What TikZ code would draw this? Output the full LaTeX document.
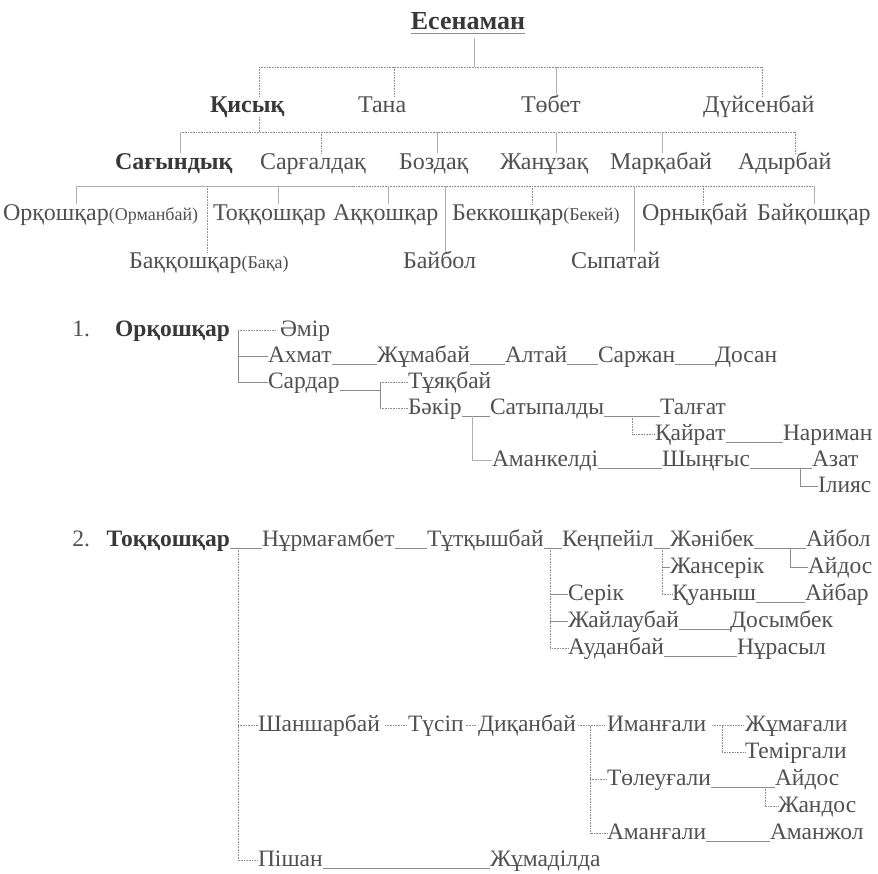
\documentclass[tikz,border=0pt]{standalone}
\usepackage{fontspec}
\setmainfont{Liberation Serif}
\definecolor{tc}{HTML}{505050}
\definecolor{tb}{HTML}{383838}
\definecolor{lc}{HTML}{8C8C8C}
\definecolor{lcl}{HTML}{B0B0B0}
\newcommand\usc[2]{\draw[us] ([yshift=-2pt]#1.base east) -- ([yshift=-2pt]#2.base west);}
\newcommand\smp{\fontsize{18}{20}\selectfont}
\begin{document}
\begin{tikzpicture}[x=1pt,y=-1pt,
 every node/.style={inner sep=0pt, outer sep=0pt},
 up/.style={anchor=base west, text=tc, font=\fontsize{24}{26}\selectfont, text height=16pt, text depth=5pt},
 upb/.style={up, text=tb, font=\fontsize{24}{26}\selectfont\bfseries},
 lo/.style={anchor=base west, text=tc, font=\fontsize{23.5}{26}\selectfont, text height=15pt, text depth=4pt},
 lob/.style={lo, text=tb, font=\fontsize{23.5}{26}\selectfont\bfseries},
 ln/.style={draw=lc, line width=0.6pt},
 dt/.style={ln, densely dotted},
 sl/.style={draw=lcl, line width=1pt},
 us/.style={draw=lc, line width=0.8pt},
]
\fill[white] (0,0) rectangle (878,873);
\useasboundingbox (0,0) rectangle (878,873);
% ---------- upper tree ----------
\node[upb, anchor=base, font=\fontsize{26}{28}\selectfont\bfseries] (es) at (468,29) {Есенаман};
\draw[ln, line width=1pt] ([yshift=-4pt]es.base west) -- ([yshift=-4pt]es.base east);
\coordinate (b1) at (474,67);
\draw[sl] ([xshift=6pt,yshift=-9pt]es.base) -- (b1);
\coordinate (b1a) at (259,67); \coordinate (b1b) at (394,67);
\coordinate (b1c) at (556,67); \coordinate (b1d) at (762,67);
\draw[dt] (b1a) -- (b1d);
\node[upb] (kis) at (210,112) {Қисық};
\node[up] (tana) at (358,112) {Тана};
\node[up] (tob) at (521,112) {Төбет};
\node[up] (duy) at (703,112) {Дүйсенбай};
\draw[dt] (b1a) -- (b1a |- kis.north);
\draw[dt] (b1b) -- (b1b |- tana.north);
\draw[sl] (b1c) -- (b1c |- tob.north);
\draw[dt] (b1d) -- (b1d |- duy.north);
% row 2
\coordinate (b2a) at (180,132); \coordinate (b2b) at (321,132);
\coordinate (b2c) at (437,132); \coordinate (b2d) at (556,132);
\coordinate (b2e) at (662,132); \coordinate (b2f) at (795,132);
\draw[dt] (b1a |- kis.south) -- (b1a |- b2a);
\draw[dt] (b2a) -- (b2f);
\node[upb] (sag) at (115,169) {Сағындық};
\node[up] (sarg) at (260,169) {Сарғалдақ};
\node[up] (boz) at (399,169) {Боздақ};
\node[up] (zhanu) at (500,169) {Жанұзақ};
\node[up] (mark) at (610,169) {Марқабай};
\node[up] (adyr) at (738,169) {Адырбай};
\draw[sl] (b2a) -- (b2a |- sag.north);
\draw[dt] (b2b) -- (b2b |- sarg.north);
\draw[sl] (b2c) -- (b2c |- boz.north);
\draw[sl] (b2d) -- (b2d |- zhanu.north);
\draw[sl] (b2e) -- (b2e |- mark.north);
\draw[dt] (b2f) -- (b2f |- adyr.north);
% row 3
\coordinate (c1) at (76,186); \coordinate (c2) at (207,186); \coordinate (c3) at (278,186);
\coordinate (c4) at (388,186); \coordinate (c5) at (445,186); \coordinate (c6) at (532,186);
\coordinate (c7) at (634,186); \coordinate (c8) at (703,186); \coordinate (c9) at (814,186);
\draw[dt] (c1) -- (c9);
\draw[sl, draw=lc!70] (c1) -- (353,186);
\node[up] (ork0) at (3,220) {Орқошқар{\smp(Орманбай)}};
\node[up] (tok0) at (213,220) {Тоққошқар};
\node[up] (akk0) at (333,220) {Аққошқар};
\node[up] (bek0) at (452,220) {Беккошқар{\smp(Бекей)}};
\node[up] (orn0) at (642,220) {Орнықбай};
\node[up] (bay0) at (757,220) {Байқошқар};
\node[up] (bak0) at (129,268) {Баққошқар{\smp(Бақа)}};
\node[up] (baib) at (403,268) {Байбол};
\node[up] (syp) at (571,268) {Сыпатай};
\draw[sl] (c1) -- (c1 |- ork0.north);
\draw[dt] (c2) -- (c2 |- bak0.north);
\draw[sl] (c3) -- (c3 |- tok0.north);
\draw[sl] (c4) -- (c4 |- akk0.north);
\draw[sl] (c5) -- (c5 |- baib.north);
\draw[dt] (c6) -- (c6 |- bek0.north);
\draw[sl] (c7) -- (c7 |- syp.north);
\draw[dt] (c8) -- (c8 |- orn0.north);
\draw[sl] (c9) -- (c9 |- bay0.north);
% ---------- section 1 ----------
\coordinate (v1) at (238,0); \coordinate (v9) at (380,0); \coordinate (v10) at (472,0);
\coordinate (v11) at (632,0); \coordinate (v12) at (800,0);
\node[lo, anchor=base east] (n1) at (90,336) {1.};
\node[lob, anchor=base east] (ork) at (230,336) {Орқошқар};
\node[lo] (amir) at (280,336) {Әмір};
\node[lo] (ahm) at (268,362) {Ахмат};
\node[lo] (zhum) at (377,362) {Жұмабай};
\node[lo] (alt) at (505,362) {Алтай};
\node[lo] (sarzh) at (598,362) {Саржан};
\node[lo] (dos) at (715,362) {Досан};
\node[lo] (sard) at (268,388) {Сардар};
\node[lo] (tuyak) at (408,388) {Тұяқбай};
\node[lo] (bakir) at (408,414) {Бәкір};
\node[lo] (sat) at (490,414) {Сатыпалды};
\node[lo] (talg) at (660,414) {Талғат};
\node[lo] (kayr) at (655,440) {Қайрат};
\node[lo] (nar) at (783,440) {Нариман};
\node[lo] (amank) at (492,466) {Аманкелді};
\node[lo] (shyn) at (662,466) {Шыңғыс};
\node[lo] (azat) at (812,466) {Азат};
\node[lo] (ilyas) at (818,492) {Ілияс};
\draw[ln] (v1 |- amir.west) -- (v1 |- sard.west);
\draw[dt] (v1 |- amir.west) -- ([xshift=-5pt]amir.west);
\draw[ln] (v1 |- ahm.west) -- (ahm.west);
\draw[ln] (v1 |- sard.west) -- (sard.west);
\usc{ahm}{zhum} \usc{zhum}{alt} \usc{alt}{sarzh} \usc{sarzh}{dos}
\draw[us] ([yshift=-2pt]sard.base east) -- ([yshift=-2pt]sard.base east -| v9);
\draw[ln] (v9 |- tuyak.west) -- (v9 |- bakir.west);
\draw[dt] (v9 |- tuyak.west) -- (tuyak.west);
\draw[dt] (v9 |- bakir.west) -- (bakir.west);
\usc{bakir}{sat} \usc{sat}{talg}
\draw[sl] ([yshift=-2pt]bakir.base east -| v10) -- (v10 |- amank.west) -- (amank.west);
\draw[dt] ([yshift=-2pt]sat.base east -| v11) -- (v11 |- kayr.west) -- (kayr.west);
\usc{kayr}{nar}
\usc{amank}{shyn} \usc{shyn}{azat}
\draw[ln] ([yshift=-2pt]shyn.base east -| v12) -- (v12 |- ilyas.west) -- (ilyas.west);
% ---------- section 2 ----------
\coordinate (v2) at (238,0); \coordinate (v3) at (550,0); \coordinate (v4) at (662,0);
\coordinate (v5) at (790,0); \coordinate (v6) at (590,0); \coordinate (v7) at (722,0);
\coordinate (v8) at (765,0);
\node[lo, anchor=base east] (n2) at (90,546) {2.};
\node[lob, anchor=base east] (tok) at (230,546) {Тоққошқар};
\node[lo] (nur) at (262,546) {Нұрмағамбет};
\node[lo] (tut) at (427,546) {Тұтқышбай};
\node[lo] (ken) at (562,546) {Кеңпейіл};
\node[lo] (zhani) at (670,546) {Жәнібек};
\node[lo] (aybol) at (806,546) {Айбол};
\node[lo] (zhans) at (670,573) {Жансерік};
\node[lo] (aydos) at (808,573) {Айдос};
\node[lo] (serik) at (568,600) {Серік};
\node[lo] (kuan) at (672,600) {Қуаныш};
\node[lo] (aybar) at (805,600) {Айбар};
\node[lo] (zhail) at (568,627) {Жайлаубай};
\node[lo] (dosym) at (730,627) {Досымбек};
\node[lo] (aud) at (568,654) {Ауданбай};
\node[lo] (nuras) at (737,654) {Нұрасыл};
\node[lo] (shan) at (258,731) {Шаншарбай};
\node[lo] (tus) at (408,731) {Түсіп};
\node[lo] (dik) at (478,731) {Диқанбай};
\node[lo] (iman) at (607,731) {Иманғали};
\node[lo] (zhumg) at (745,731) {Жұмағали};
\node[lo] (temir) at (745,758) {Теміргали};
\node[lo] (tol) at (607,785) {Төлеуғали};
\node[lo] (aydos2) at (775,785) {Айдос};
\node[lo] (zhand) at (778,812) {Жандос};
\node[lo] (amang) at (607,839) {Аманғали};
\node[lo] (amanzh) at (770,839) {Аманжол};
\node[lo] (pish) at (258,866) {Пішан};
\node[lo] (zhumd) at (490,866) {Жұмаділда};
\usc{tok}{nur} \usc{nur}{tut} \usc{tut}{ken} \usc{ken}{zhani} \usc{zhani}{aybol}
\usc{kuan}{aybar} \usc{zhail}{dosym} \usc{aud}{nuras}
\usc{tol}{aydos2} \usc{amang}{amanzh} \usc{pish}{zhumd}
\draw[dt] ([yshift=-2pt]tok.base east -| v2) -- (v2 |- pish.west) -- (pish.west);
\draw[dt] (v2 |- shan.west) -- (shan.west);
\draw[dt] ([yshift=-2pt]tut.base east -| v3) -- (v3 |- aud.west) -- (aud.west);
\draw[ln] (v3 |- serik.west) -- (serik.west);
\draw[ln] (v3 |- zhail.west) -- (zhail.west);
\draw[dt] ([yshift=-2pt]ken.base east -| v4) -- (v4 |- kuan.west) -- (kuan.west);
\draw[ln] (v4 |- zhans.west) -- (zhans.west);
\draw[ln] ([yshift=-2pt]zhani.base east -| v5) -- (v5 |- aydos.west) -- (aydos.west);
\draw[dt] ([xshift=5pt]shan.east) -- ([xshift=-2pt]tus.west);
\draw[dt] ([xshift=2pt]tus.east) -- ([xshift=-2pt]dik.west);
\draw[dt] ([xshift=2pt]dik.east) -- ([xshift=-2pt]iman.west);
\draw[dt] (v6 |- iman.west) -- (v6 |- amang.west) -- (amang.west);
\draw[dt] (v6 |- tol.west) -- (tol.west);
\draw[dt] ([xshift=6pt]iman.east) -- ([xshift=-2pt]zhumg.west);
\draw[dt] (v7 |- zhumg.west) -- (v7 |- temir.west) -- (temir.west);
\draw[dt] ([yshift=-2pt]tol.base east -| v8) -- (v8 |- zhand.west) -- (zhand.west);
\end{tikzpicture}
\end{document}
